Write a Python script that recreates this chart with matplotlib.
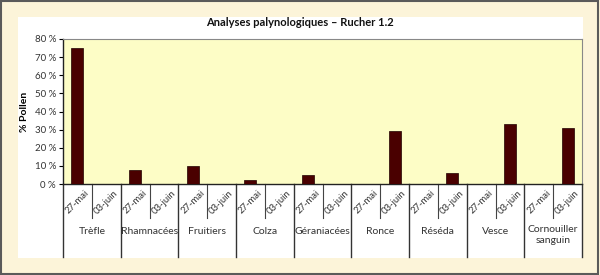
import matplotlib.pyplot as plt
from matplotlib.patches import Rectangle
import matplotlib.transforms as mtransforms

groups = ['Trèfle', 'Rhamnacées', 'Fruitiers', 'Colza', 'Géraniacées',
          'Ronce', 'Réséda', 'Vesce', 'Cornouiller\nsanguin']
dates = ['27-mai', '03-juin']
val_mai = [75, 8, 10, 2, 5, 0, 0, 0, 0]
val_juin = [0, 0, 0, 0, 0, 29, 6, 33, 31]
yticks = [0, 10, 20, 30, 40, 50, 60, 70, 80]

plt.rcParams['font.family'] = ['Lato', 'DejaVu Sans']

fig = plt.figure(figsize=(6, 2.75), dpi=100, facecolor='#fcf4d9')
# white panel and outer frame
fig.patches.append(Rectangle((18/600, 1-258/275), 565/600, 241/275,
                             transform=fig.transFigure, facecolor='white',
                             edgecolor='none', zorder=-2))
fig.patches.append(Rectangle((0.002, 0.003), 0.995, 0.992, transform=fig.transFigure,
                             facecolor='none', edgecolor='#5a5a5a', lw=1.5, zorder=5))

ax = fig.add_axes([63/600, 1-184/275, 519/600, 145/275])
ax.set_facecolor('#fdfdc6')

xs = []
vals = []
for i in range(len(groups)):
    xs += [2*i + 0.5, 2*i + 1.5]
    vals += [val_mai[i], val_juin[i]]
ax.bar(xs, vals, width=0.42, color='#4a0000', edgecolor='#200000', lw=0.5, zorder=3)

ax.set_xlim(0, 2*len(groups))
ax.set_ylim(0, 80)
ax.set_yticks(yticks)
ax.set_yticklabels([f'{v} %' for v in yticks], fontsize=7, color='#333333')
ax.tick_params(axis='y', length=3, width=0.8, pad=2)
ax.set_xticks([])
for s in ['top', 'right']:
    ax.spines[s].set_color('#888888')
    ax.spines[s].set_linewidth(0.8)
for s in ['left', 'bottom']:
    ax.spines[s].set_color('#222222')
    ax.spines[s].set_linewidth(1.0)

trans = mtransforms.blended_transform_factory(ax.transData, ax.transAxes)
for i, g in enumerate(groups):
    for j, d in enumerate(dates):
        ax.text(2*i + j + 0.5, -0.125, d, rotation=45, ha='center', va='center',
                fontsize=6.8, color='#333333', transform=trans)
    ax.text(2*i + 1, -0.33 if '\n' not in g else -0.285, g, ha='center',
            va='top' if '\n' in g else 'center',
            fontsize=7.5, color='#333333', transform=trans, linespacing=1.2)
    # short separator between dates
    ax.plot([2*i + 1, 2*i + 1], [0, -0.235], color='#444444', lw=0.8,
            transform=trans, clip_on=False)
for k in range(len(groups) + 1):
    ax.plot([2*k, 2*k], [0, -0.505], color='#333333', lw=1.0,
            transform=trans, clip_on=False)

fig.text(0.5, 1-23/275, 'Analyses palynologiques – Rucher 1.2', ha='center', va='center',
         fontsize=8, fontweight='bold', color='#111111')
ax.set_ylabel('% Pollen', fontsize=7.5, fontweight='bold', labelpad=4)

fig.savefig('out.png', dpi=100, facecolor=fig.get_facecolor())
